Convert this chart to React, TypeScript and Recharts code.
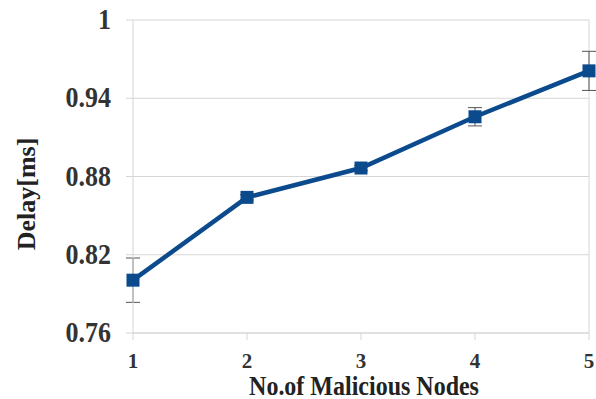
import React from 'react';
import { LineChart, Line, XAxis, YAxis, CartesianGrid, ErrorBar, ReferenceLine } from 'recharts';

const nodes = [1, 2, 3, 4, 5];
const delay = [0.8005, 0.864, 0.8865, 0.9258, 0.961];
const delayErr = [0.017, 0.002, 0.002, 0.007, 0.015];
const yTicks = [0.76, 0.82, 0.88, 0.94, 1];

const data = nodes.map((n, i) => ({ n, delay: delay[i], err: delayErr[i] }));

const FONT = '"Liberation Serif", "Times New Roman", serif';
const BLUE = '#0b4a8c';
const GRID = '#d6d6d6';

const XTick = (props: any) => {
  const { x, y, payload } = props;
  return (
    <g transform={`translate(${x},${y})`}>
      <text textAnchor="middle" y={26} fontFamily={FONT} fontWeight="bold" fontSize={21} fill="#333">
        {payload.value}
      </text>
    </g>
  );
};

const YTick = (props: any) => {
  const { x, y, payload } = props;
  const v = payload.value === 1 ? '1' : Number(payload.value).toFixed(2);
  return (
    <g transform={`translate(${x},${y}) scale(1,1.15)`}>
      <text textAnchor="end" x={-13} y={8} fontFamily={FONT} fontWeight="bold" fontSize={26} fill="#333">
        {v}
      </text>
    </g>
  );
};

const SquareDot = (props: any) => {
  const { cx, cy, index } = props;
  if (cx == null || cy == null) return null;
  return <rect key={`d${index}`} x={cx - 6.5} y={cy - 6.5} width={13} height={13} fill={BLUE} />;
};

export default function App() {
  return (
    <div style={{ position: 'absolute', left: 0, top: 0, width: 596, height: 399, background: '#fff' }}>
      <LineChart width={596} height={399} data={data} margin={{ top: 20, right: 7, left: 0, bottom: 0 }}>
        <CartesianGrid horizontal vertical={false} stroke={GRID} strokeWidth={1} />
        <XAxis
          dataKey="n"
          type="number"
          domain={[1, 5]}
          ticks={nodes}
          height={66}
          axisLine={{ stroke: GRID }}
          tickLine={{ stroke: GRID }}
          tickSize={7}
          tick={<XTick />}
          label={{
            content: () => (
              <g transform="translate(364,395) scale(1,1.1)">
                <text textAnchor="middle" x={0} y={0} fontFamily={FONT} fontWeight="bold" fontSize={24} fill="#222">
                  No.of Malicious Nodes
                </text>
              </g>
            ),
          }}
        />
        <YAxis
          type="number"
          domain={[0.76, 1]}
          ticks={yTicks}
          width={133}
          axisLine={{ stroke: GRID }}
          tickLine={{ stroke: GRID }}
          tickSize={7}
          tick={<YTick />}
          label={{
            content: () => (
              <text
                x={26}
                y={194}
                transform="rotate(-90 26 194)"
                textAnchor="middle"
                dominantBaseline="central"
                fontFamily={FONT}
                fontWeight="bold"
                fontSize={26}
                fill="#222"
              >
                Delay[ms]
              </text>
            ),
          }}
        />
        <ReferenceLine x={5} stroke={GRID} strokeWidth={1} ifOverflow="extendDomain" />
        <Line
          type="linear"
          dataKey="delay"
          stroke={BLUE}
          strokeWidth={4.5}
          dot={<SquareDot />}
          activeDot={false}
          isAnimationActive={false}
        >
          <ErrorBar dataKey="err" direction="y" width={7} stroke="#555" strokeWidth={1} />
        </Line>
      </LineChart>
    </div>
  );
}
